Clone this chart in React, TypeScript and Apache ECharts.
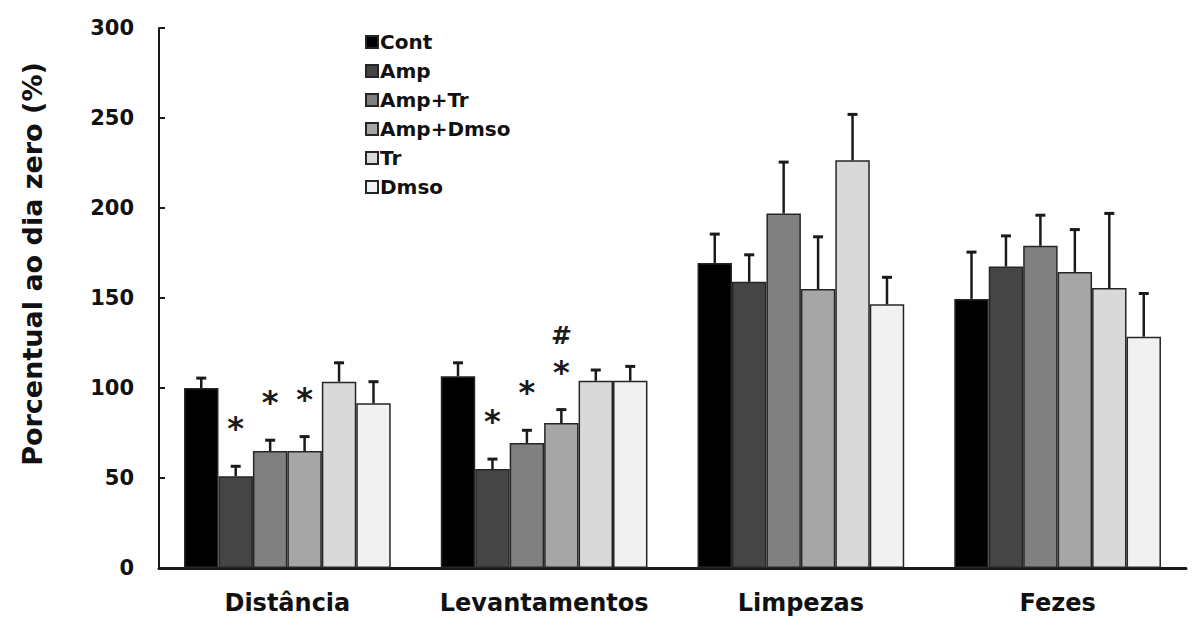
import React, { useEffect, useRef } from "react";
import * as echarts from "echarts";

const categories = ["Distância", "Levantamentos", "Limpezas", "Fezes"];
const groups = ["Cont", "Amp", "Amp+Tr", "Amp+Dmso", "Tr", "Dmso"];
const colors = ["#000000", "#454545", "#808080", "#a6a6a6", "#d9d9d9", "#f1f1f1"];

const contValues = [100, 106.5, 169.5, 149.5];
const ampValues = [51, 55, 159, 167.5];
const ampTrValues = [65, 69.5, 197, 179];
const ampDmsoValues = [65, 80.5, 155, 164.5];
const trValues = [103.5, 104, 226.5, 155.5];
const dmsoValues = [91.5, 104, 146.5, 128.5];

const contErr = [5.5, 7.5, 16, 26];
const ampErr = [5.5, 5.5, 15, 17];
const ampTrErr = [6, 7, 28.5, 17];
const ampDmsoErr = [8, 7.5, 29, 23.5];
const trErr = [10.5, 6, 25.5, 41.5];
const dmsoErr = [12, 8, 15, 24];

const values = [contValues, ampValues, ampTrValues, ampDmsoValues, trValues, dmsoValues];
const errors = [contErr, ampErr, ampTrErr, ampDmsoErr, trErr, dmsoErr];

// significance marks: [categoryIndex, groupIndex, symbol]
const marks: [number, number, string][] = [
  [0, 1, "*"],
  [0, 2, "*"],
  [0, 3, "*"],
  [1, 1, "*"],
  [1, 2, "*"],
  [1, 3, "*"],
  [1, 3, "#"],
];

const yTicks = [0, 50, 100, 150, 200, 250, 300];

const CATEGORY_GAP = 0.195;

export default function App() {
  const ref = useRef<HTMLDivElement>(null);
  useEffect(() => {
    if (!ref.current) return;
    const chart = echarts.init(ref.current, undefined, { renderer: "svg" });

    const barSeries = groups.map((g, si) => ({
      name: g,
      type: "bar",
      data: values[si],
      barGap: "0%",
      barCategoryGap: CATEGORY_GAP * 100 + "%",
      itemStyle: { color: colors[si], borderColor: "#262626", borderWidth: 1.5 },
      emphasis: { disabled: true },
    }));

    const errData: number[][] = [];
    groups.forEach((_, si) => {
      categories.forEach((_, ci) => {
        errData.push([ci, si, values[si][ci], errors[si][ci]]);
      });
    });

    const markData = marks.map((m, i) => {
      const order = marks.slice(0, i).filter((o) => o[0] === m[0] && o[1] === m[1]).length;
      return [m[0], m[1], values[m[1]][m[0]] + errors[m[1]][m[0]], order, m[2]];
    });

    const barOffset = (api: any, si: number) => {
      const band = api.size([1, 0])[0];
      const bw = (band * (1 - CATEGORY_GAP)) / groups.length;
      return { off: (si - (groups.length - 1) / 2) * bw, bw };
    };

    const option: any = {
      animation: false,
      textStyle: { fontFamily: "DejaVu Sans" },
      grid: { left: 159, right: 8, top: 28, bottom: 51, containLabel: false },
      legend: {
        data: groups,
        orient: "vertical",
        left: 360,
        top: 27,
        itemWidth: 12,
        itemHeight: 12,
        itemGap: 9,
        icon: "rect",
        textStyle: { fontFamily: "DejaVu Sans", fontWeight: "bold", fontSize: 20, color: "#111", lineHeight: 20, padding: [0, 0, 0, -3] },
      },
      xAxis: {
        type: "category",
        data: categories,
        axisLine: { lineStyle: { color: "#1a1a1a", width: 3 } },
        axisTick: { show: false },
        axisLabel: { interval: 0, fontFamily: "DejaVu Sans", fontWeight: "bold", fontSize: 24, color: "#111", margin: 23 },
      },
      yAxis: {
        type: "value",
        min: yTicks[0],
        max: yTicks[yTicks.length - 1],
        interval: 50,
        splitLine: { show: false },
        axisLine: { show: true, lineStyle: { color: "#1a1a1a", width: 2 } },
        axisTick: { show: true, inside: true, length: 6, lineStyle: { color: "#1a1a1a", width: 2 } },
        axisLabel: { fontFamily: "DejaVu Sans", fontWeight: "bold", fontSize: 21, color: "#111", margin: 25 },
      },
      graphic: [
        {
          type: "text",
          x: 32,
          y: 264,
          rotation: Math.PI / 2,
          style: {
            text: "Porcentual ao dia zero (%)",
            font: "bold 27px 'DejaVu Sans'",
            fill: "#111",
            textAlign: "center",
            textVerticalAlign: "middle",
          },
        },
      ],
      series: [
        ...barSeries,
        {
          type: "custom",
          name: "err",
          data: errData,
          z: 5,
          renderItem: (params: any, api: any) => {
            const ci = api.value(0);
            const si = api.value(1);
            const v = api.value(2);
            const e = api.value(3);
            const { off } = barOffset(api, si);
            const base = api.coord([ci, v]);
            const top = api.coord([ci, v + e]);
            const x = base[0] + off;
            return {
              type: "group",
              children: [
                { type: "line", shape: { x1: x, y1: base[1], x2: x, y2: top[1] }, style: { stroke: "#1a1a1a", lineWidth: 2.5 } },
                { type: "line", shape: { x1: x - 5, y1: top[1], x2: x + 5, y2: top[1] }, style: { stroke: "#1a1a1a", lineWidth: 3 } },
              ],
            };
          },
        },
        {
          type: "custom",
          name: "marks",
          data: markData,
          z: 6,
          renderItem: (params: any, api: any) => {
            const ci = api.value(0);
            const si = api.value(1);
            const t = api.value(2);
            const order = api.value(3);
            const sym = markData[params.dataIndex][4] as string;
            const { off } = barOffset(api, si);
            const p = api.coord([ci, t]);
            const isStar = sym === "*";
            return {
              type: "text",
              x: p[0] + off,
              y: isStar ? p[1] - 38 - order * 38 : p[1] - 36 - order * 38,
              style: {
                text: sym,
                font: isStar ? "bold 32px 'DejaVu Sans'" : "bold 25px 'DejaVu Sans'",
                fill: "#1a1a1a",
                textAlign: "center",
                textVerticalAlign: "middle",
              },
            };
          },
        },
      ],
    };
    chart.setOption(option);
    return () => chart.dispose();
  }, []);
  return <div ref={ref} style={{ position: "fixed", left: 0, top: 0, width: 1194, height: 619, background: "#fff" }} />;
}
